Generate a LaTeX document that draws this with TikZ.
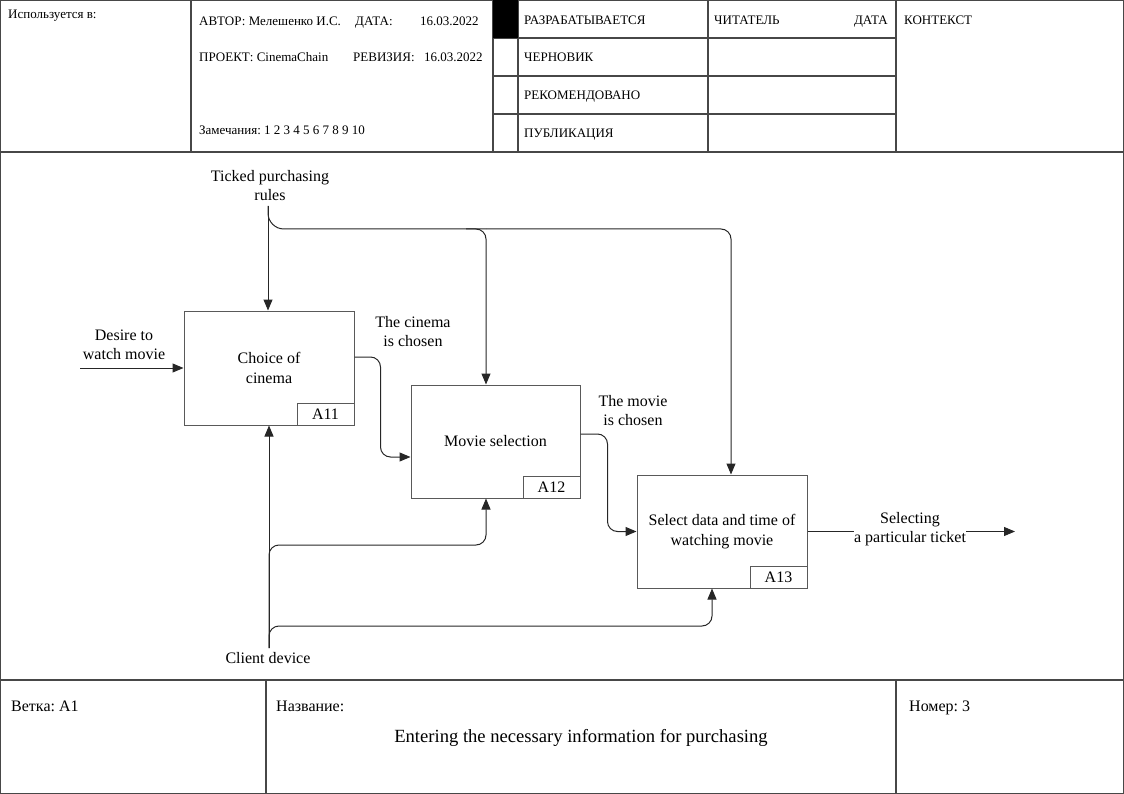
\documentclass[tikz,border=0pt]{standalone}
\usepackage{fontspec}
\setmainfont{Liberation Serif}
\frenchspacing
\usetikzlibrary{arrows.meta}
\tikzset{
 frameline/.style={draw=black!72, line width=1.3pt},
 fbox/.style={draw=black!65, line width=1pt, align=center, inner sep=0pt, font=\fontsize{16}{20}\selectfont},
 nbox/.style={draw=black!65, line width=1pt, minimum width=57pt, minimum height=22pt, inner sep=0pt, anchor=south east, font=\fontsize{16}{19}\selectfont},
 conn/.style={draw=black!85, line width=1pt, rounded corners=10pt},
 arr/.style={conn, -{Triangle[length=11pt,width=9pt]}},
 lbl/.style={align=center, inner sep=0pt, font=\fontsize{16}{19}\selectfont},
 hdr/.style={anchor=base west, inner sep=0pt, font=\fontsize{13}{15}\selectfont},
 ftr/.style={anchor=base west, inner sep=0pt, font=\fontsize{16}{18}\selectfont},
}
\begin{document}
\begin{tikzpicture}[x=1pt,y=-1pt]
\useasboundingbox (0,0) rectangle (1124,794);
% frame and table
\draw[frameline] (0.7,0.7) rectangle (1123.3,793.3);
\draw[frameline] (0,152) -- (1124,152);
\draw[frameline] (0,680) -- (1124,680);
\foreach \x in {191,493,518,708,896} \draw[frameline] (\x,0) -- (\x,152);
\foreach \y in {38,76,114} \draw[frameline] (493,\y) -- (896,\y);
\fill[black] (493,0) rectangle (518,38);
\foreach \x in {266,896} \draw[frameline] (\x,680) -- (\x,794);
% header texts
\node[hdr] (used) at (8,19) {Используется в:};
\node[hdr] (author) at (199,26) {АВТОР: Мелешенко И.С.};
\node[hdr] (date) at (355,26) {ДАТА:};
\node[hdr] (dateval) at (420,26) {16.03.2022};
\node[hdr] (proj) at (199,62) {ПРОЕКТ: CinemaChain};
\node[hdr] (rev) at (353,62) {РЕВИЗИЯ:};
\node[hdr] (revval) at (424,62) {16.03.2022};
\node[hdr] (notes) at (199,135) {Замечания: 1 2 3 4 5 6 7 8 9 10};
\node[hdr] (st1) at (524,25) {РАЗРАБАТЫВАЕТСЯ};
\node[hdr] (st2) at (524,62) {ЧЕРНОВИК};
\node[hdr] (st3) at (524,100) {РЕКОМЕНДОВАНО};
\node[hdr] (st4) at (524,138) {ПУБЛИКАЦИЯ};
\node[hdr] (reader) at (714,25) {ЧИТАТЕЛЬ};
\node[hdr, anchor=base east] (rdate) at (888,25) {ДАТА};
\node[hdr] (ctx) at (904,25) {КОНТЕКСТ};
% footer texts
\node[ftr] (node) at (11,711) {Ветка: А1};
\node[ftr] (name) at (276,711) {Название:};
\node[ftr] (num) at (909,711) {Номер: 3};
\node[anchor=base, inner sep=0pt, font=\fontsize{18.6}{20}\selectfont] (title) at (581,742) {Entering the necessary information for purchasing};
% boxes
\node[fbox, minimum width=170pt, minimum height=114pt] (A11) at (269,368) {Choice of\\cinema};
\node[nbox] (A11n) at (A11.south east) {A11};
\node[fbox, minimum width=169pt, minimum height=113pt] (A12) at (495.5,441.5) {Movie selection};
\node[nbox] (A12n) at (A12.south east) {A12};
\node[fbox, minimum width=170pt, minimum height=113pt] (A13) at (722,531.5) {Select data and time of\\watching movie};
\node[nbox] (A13n) at (A13.south east) {A13};
% labels
\node[lbl] (ctl) at (270,186) {Ticked purchasing\\rules};
\node[lbl] (inp) at (124,345) {Desire to\\watch movie};
\node[lbl] (o1) at (413,332) {The cinema\\is chosen};
\node[lbl] (o2) at (633,411) {The movie\\is chosen};
\node[lbl] (sel) at (910,529) {Selecting\\a particular ticket};
\node[lbl] (mech) at (268,658) {Client device};
% coordinates
\coordinate (ctop) at (268,206);
\coordinate (c1) at (486,229);
\coordinate (c2) at (731,229);
\coordinate (din) at (80,368);
\coordinate (dout) at (1015,531.5);
\coordinate (mbot) at (269,648);
\coordinate (m1) at (486,545);
\coordinate (m2) at (712,626);
% connectors
\draw[arr] (ctop) -- (ctop |- A11.north);
\draw[conn, rounded corners=16pt] (ctop) |- (c1);
\draw[arr] ([xshift=-20pt]c1) -- (c1) -- (c1 |- A12.north);
\draw[arr] (c1) -- (c2) -- (c2 |- A13.north);
\draw[arr] (din) -- (A11.west);
\draw[arr] ([yshift=11pt]A11.east) -- ++(26,0) |- ([yshift=-15.5pt]A12.west);
\draw[arr] ([yshift=7.5pt]A12.east) -- ++(27,0) |- (A13.west);
\draw[conn] (A13.east) -- (sel.west |- A13.east);
\draw[arr] (sel.east |- A13.east) -- (dout);
\draw[arr] (mbot) -- (mbot |- A11.south);
\draw[arr] (mbot) |- (m1) -- (m1 |- A12.south);
\draw[arr] (mbot) |- (m2) -- (m2 |- A13.south);
\end{tikzpicture}
\end{document}
